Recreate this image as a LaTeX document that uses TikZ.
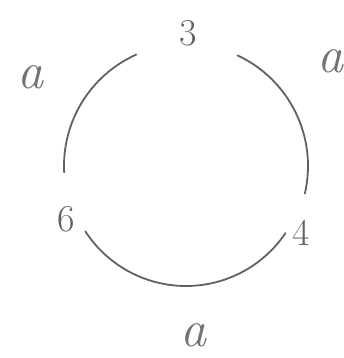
\documentclass[tikz,border=0pt]{standalone}
\begin{document}
\begin{tikzpicture}[x=1pt,y=1pt,
  ring/.style={draw=black!62,line width=1.8pt,line cap=round},
  lbl/.style={text=black!62,inner sep=0pt,font=\fontsize{38}{38}\selectfont},
  albl/.style={text=black!55,inner sep=0pt,font=\fontsize{52}{52}\selectfont\itshape}]
\useasboundingbox (0,0) rectangle (344,358);
\coordinate (c) at (186,192);
\draw[ring] (c) ++(114:122pt) arc[start angle=114,end angle=183,radius=122pt];
\draw[ring] (c) ++(65:122pt) arc[start angle=65,end angle=-13,radius=122pt];
\draw[ring] (c) ++(213:120pt) arc[start angle=213,end angle=326,radius=120pt];
\node[lbl] (n3) at (188,325) {3};
\node[lbl] (n6) at (66,139) {6};
\node[lbl] (n4) at (301,125) {4};
\node[albl] (al) at (30,281) {a};
\node[albl] (ar) at (330,297) {a};
\node[albl] (ab) at (193,23) {a};
\end{tikzpicture}
\end{document}
